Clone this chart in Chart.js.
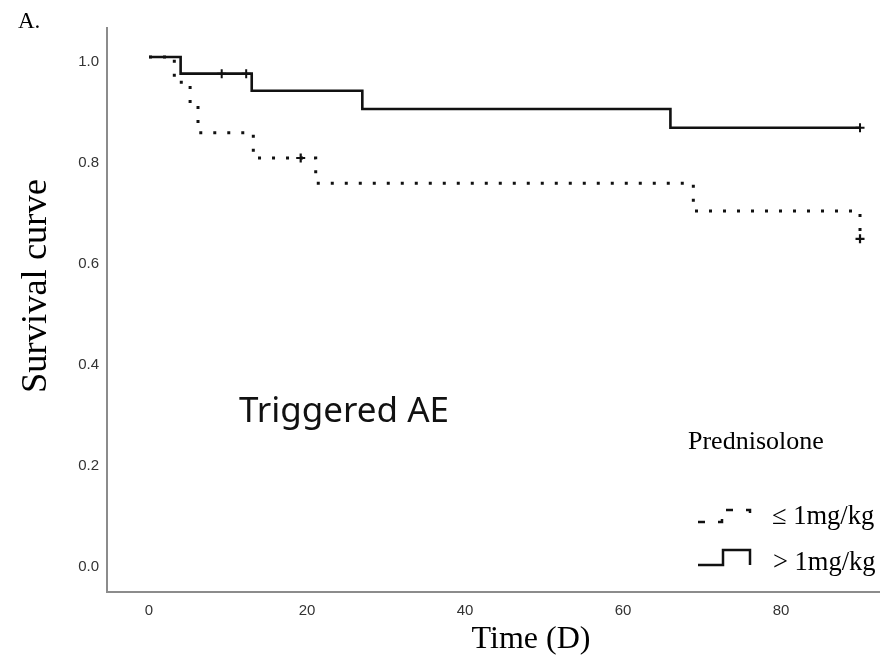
<!DOCTYPE html>
<html>
<head>
<meta charset="utf-8">
<script src="https://cdn.jsdelivr.net/npm/chart.js@4/dist/chart.umd.min.js"></script>
<style>
	body { margin: 0; background: #fff; }
	canvas { display: block; }
</style>
</head>
<body>
<canvas id="km" width="880" height="669"></canvas>
<script>
// Kaplan-Meier steps (time in days, survival)
const highDoseTimes = [ 0, 4, 13, 27, 66, 90 ];
const highDoseSurvival = [ 1, 0.967, 0.933, 0.897, 0.86, 0.86 ];
const highDoseCensorTimes = [ 9.2, 12.3, 90 ];
const highDoseCensorSurvival = [ 0.967, 0.967, 0.86 ];

const lowDoseTimes = [ 0, 3.2, 5.2, 6.2, 13.2, 21.1, 68.9, 90 ];
const lowDoseSurvival = [ 1, 0.95, 0.90, 0.85, 0.80, 0.75, 0.695, 0.64 ];
const lowDoseCensorTimes = [ 19.2, 90 ];
const lowDoseCensorSurvival = [ 0.80, 0.64 ];

const xTicks = [ 0, 20, 40, 60, 80 ];
const yTicks = [ 0, 0.2, 0.4, 0.6, 0.8, 1.0 ];

const legendLabels = [ '\u2264 1mg/kg', '> 1mg/kg' ];

const toPoints = ( xs, ys ) => xs.map( ( x, i ) => ( { x: x, y: ys[ i ] } ) );

const serif = '"Liberation Serif", "Times New Roman", serif';

// free text, legend box and the panel letter
const annotations = {
	id: 'annotations',
	afterDraw( chart ) {
		const ctx = chart.ctx;
		ctx.save();
		ctx.fillStyle = '#000';
		ctx.textBaseline = 'middle';

		ctx.font = '23px ' + serif;
		ctx.textAlign = 'left';
		ctx.fillText( 'A.', 18, 22 );

		ctx.font = '35px "Noto Sans", sans-serif';
		ctx.textAlign = 'center';
		ctx.fillStyle = '#111';
		ctx.fillText( 'Triggered AE', 344, 412 );

		ctx.fillStyle = '#000';
		ctx.font = '32px ' + serif;
		ctx.fillText( 'Time (D)', 531, 640 );

		ctx.save();
		ctx.translate( 36, 286 );
		ctx.rotate( -Math.PI / 2 );
		ctx.font = '36.5px ' + serif;
		ctx.fillText( 'Survival curve', 0, 0 );
		ctx.restore();

		// legend
		ctx.textAlign = 'left';
		ctx.font = '26px ' + serif;
		ctx.fillText( 'Prednisolone', 688, 442 );
		ctx.font = '26.5px ' + serif;
		ctx.fillText( legendLabels[ 0 ], 772, 517 );
		ctx.fillText( legendLabels[ 1 ], 773, 563 );

		ctx.strokeStyle = '#111';
		ctx.lineWidth = 2.5;
		ctx.lineCap = 'butt';

		ctx.setLineDash( [ 7, 13 ] );
		ctx.beginPath();
		ctx.moveTo( 698, 522 );
		ctx.lineTo( 722, 522 );
		ctx.lineTo( 722, 510 );
		ctx.lineTo( 750, 510 );
		ctx.lineTo( 750, 522 );
		ctx.stroke();

		ctx.setLineDash( [] );
		ctx.beginPath();
		ctx.moveTo( 698, 565 );
		ctx.lineTo( 723, 565 );
		ctx.lineTo( 723, 550 );
		ctx.lineTo( 750, 550 );
		ctx.lineTo( 750, 565 );
		ctx.stroke();

		ctx.restore();
	}
};

new Chart( document.getElementById( 'km' ).getContext( '2d' ), {
	type: 'scatter',
	data: {
		datasets: [
			{
				label: legendLabels[ 0 ],
				data: toPoints( lowDoseTimes, lowDoseSurvival ),
				showLine: true,
				stepped: true,
				borderColor: '#111',
				borderWidth: 3,
				borderDash: [ 3, 11 ],
				pointRadius: 0,
			},
			{
				label: legendLabels[ 1 ],
				data: toPoints( highDoseTimes, highDoseSurvival ),
				showLine: true,
				stepped: true,
				borderColor: '#111',
				borderWidth: 2.6,
				pointRadius: 0,
			},
			{
				label: 'censored low',
				data: toPoints( lowDoseCensorTimes, lowDoseCensorSurvival ),
				pointStyle: 'cross',
				pointRadius: 4.5,
				borderColor: '#111',
				borderWidth: 2.2,
			},
			{
				label: 'censored high',
				data: toPoints( highDoseCensorTimes, highDoseCensorSurvival ),
				pointStyle: 'cross',
				pointRadius: 4.5,
				borderColor: '#111',
				borderWidth: 2,
			},
		],
	},
	options: {
		responsive: false,
		animation: false,
		devicePixelRatio: 1,
		layout: {
			autoPadding: false,
			padding: { top: 28, right: 0, bottom: 0, left: 0 },
		},
		plugins: {
			legend: { display: false },
			tooltip: { enabled: false },
		},
		scales: {
			x: {
				type: 'linear',
				min: -5.32,
				max: 92.53,
				afterFit: scale => {
					scale.height = 77;
					scale.paddingLeft = 0;
					scale.paddingRight = 0;
				},
				afterBuildTicks: scale => { scale.ticks = xTicks.map( v => ( { value: v } ) ); },
				grid: { display: false, drawTicks: false },
				border: { display: true, color: '#8c8c8c', width: 2 },
				ticks: {
					padding: 10,
					color: '#333',
					font: { family: '"Liberation Sans", Arial, sans-serif', size: 15 },
				},
			},
			y: {
				type: 'linear',
				min: -0.0594,
				max: 1.0574,
				afterFit: scale => {
					scale.width = 107;
					scale.paddingTop = 0;
					scale.paddingBottom = 0;
				},
				afterBuildTicks: scale => { scale.ticks = yTicks.map( v => ( { value: v } ) ); },
				grid: { display: false, drawTicks: false },
				border: { display: true, color: '#8c8c8c', width: 2 },
				ticks: {
					padding: 8,
					labelOffset: 5,
					color: '#333',
					font: { family: '"Liberation Sans", Arial, sans-serif', size: 15 },
					callback: v => v.toFixed( 1 ),
				},
			},
		},
	},
	plugins: [ annotations ],
} );
</script>
</body>
</html>
